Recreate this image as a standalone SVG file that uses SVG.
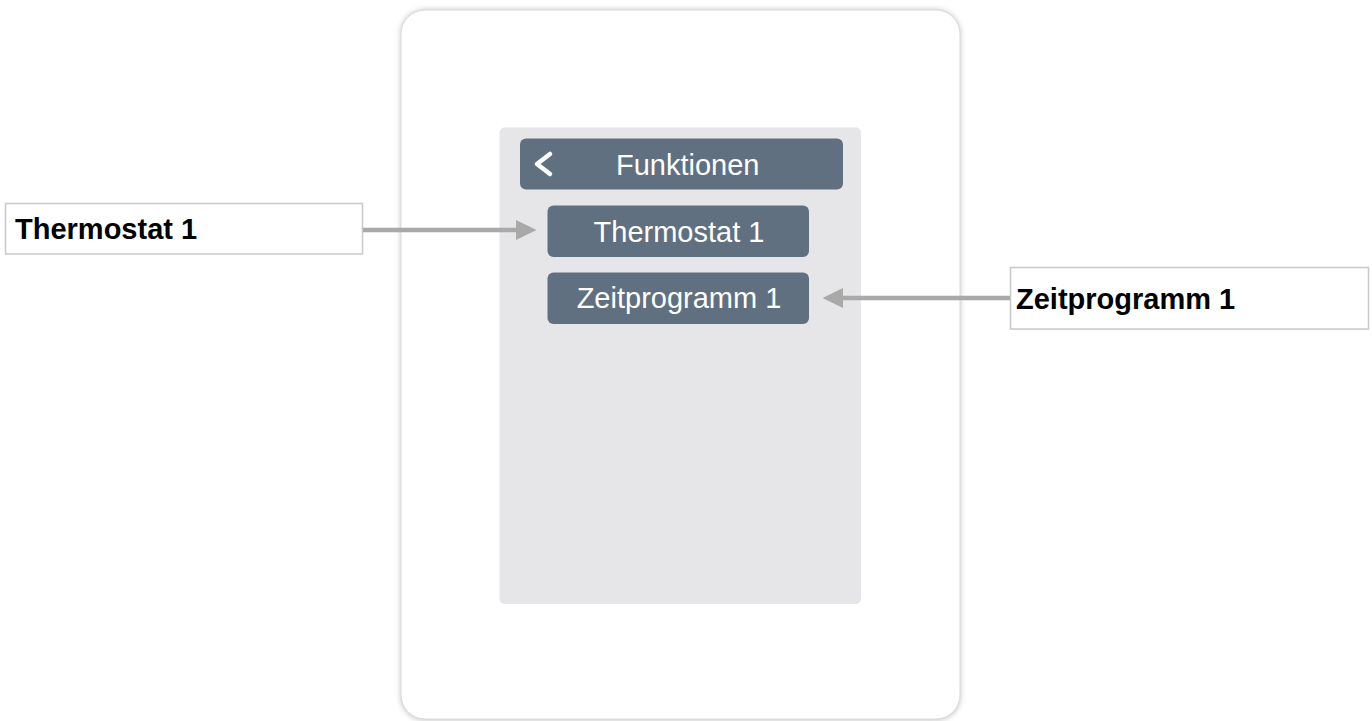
<svg xmlns="http://www.w3.org/2000/svg" width="1372" height="721" viewBox="0 0 1372 721">
  <style>
    .btn { fill: #617080; }
    .btntxt { font-family: "Liberation Sans", Arial, sans-serif; font-size: 29px; fill: #ffffff; }
    .label { fill: #ffffff; stroke: #c8c8c8; stroke-width: 1.5; }
    .labeltxt { font-family: "Liberation Sans", Arial, sans-serif; font-size: 29px; font-weight: bold; fill: #000000; }
    .conn { stroke: #a9a9a9; stroke-width: 4.5; fill: none; }
    .head { fill: #a9a9a9; }
  </style>
  <defs>
    <filter id="sh" x="-5%" y="-5%" width="110%" height="110%">
      <feGaussianBlur stdDeviation="2.5"/>
    </filter>
  </defs>
  <rect width="1372" height="721" fill="#ffffff"/>
  <g id="device">
    <rect x="400" y="9" width="561" height="712" rx="25" fill="#cfcfcf" filter="url(#sh)"/>
    <rect x="401" y="10" width="559" height="709" rx="24" fill="#ffffff" stroke="#dadada" stroke-width="1"/>
  </g>
  <g id="screen">
    <rect x="499.5" y="127.5" width="361.5" height="476.5" rx="5" fill="#e6e6e8"/>
  </g>
  <g id="header">
    <rect class="btn" x="520" y="138.5" width="323" height="51" rx="6"/>
    <polyline points="550,154 537,164 550,174" fill="none" stroke="#ffffff" stroke-width="4.5" stroke-linecap="round" stroke-linejoin="round"/>
    <text class="btntxt" x="616" y="175">Funktionen</text>
  </g>
  <g id="btn-thermostat">
    <rect class="btn" x="547.5" y="205.5" width="261.5" height="51.5" rx="6"/>
    <text class="btntxt" x="679" y="242" text-anchor="middle">Thermostat 1</text>
  </g>
  <g id="btn-zeitprogramm">
    <rect class="btn" x="547.5" y="272.5" width="261.5" height="51.5" rx="6"/>
    <text class="btntxt" x="679" y="308" text-anchor="middle">Zeitprogramm 1</text>
  </g>
  <g id="label-thermostat">
    <rect class="label" x="5.5" y="203.5" width="357" height="50.5"/>
    <text class="labeltxt" x="15" y="239">Thermostat 1</text>
  </g>
  <g id="label-zeitprogramm">
    <rect class="label" x="1010.5" y="267.5" width="358" height="61.5"/>
    <text class="labeltxt" x="1016" y="309">Zeitprogramm 1</text>
  </g>
  <g id="connectors">
    <line class="conn" x1="363" y1="230" x2="518" y2="230"/>
    <polygon class="head" points="516,220 536.5,230 516,240"/>
    <line class="conn" x1="841" y1="298" x2="1010" y2="298"/>
    <polygon class="head" points="843,288 822.5,298 843,308"/>
  </g>
</svg>
